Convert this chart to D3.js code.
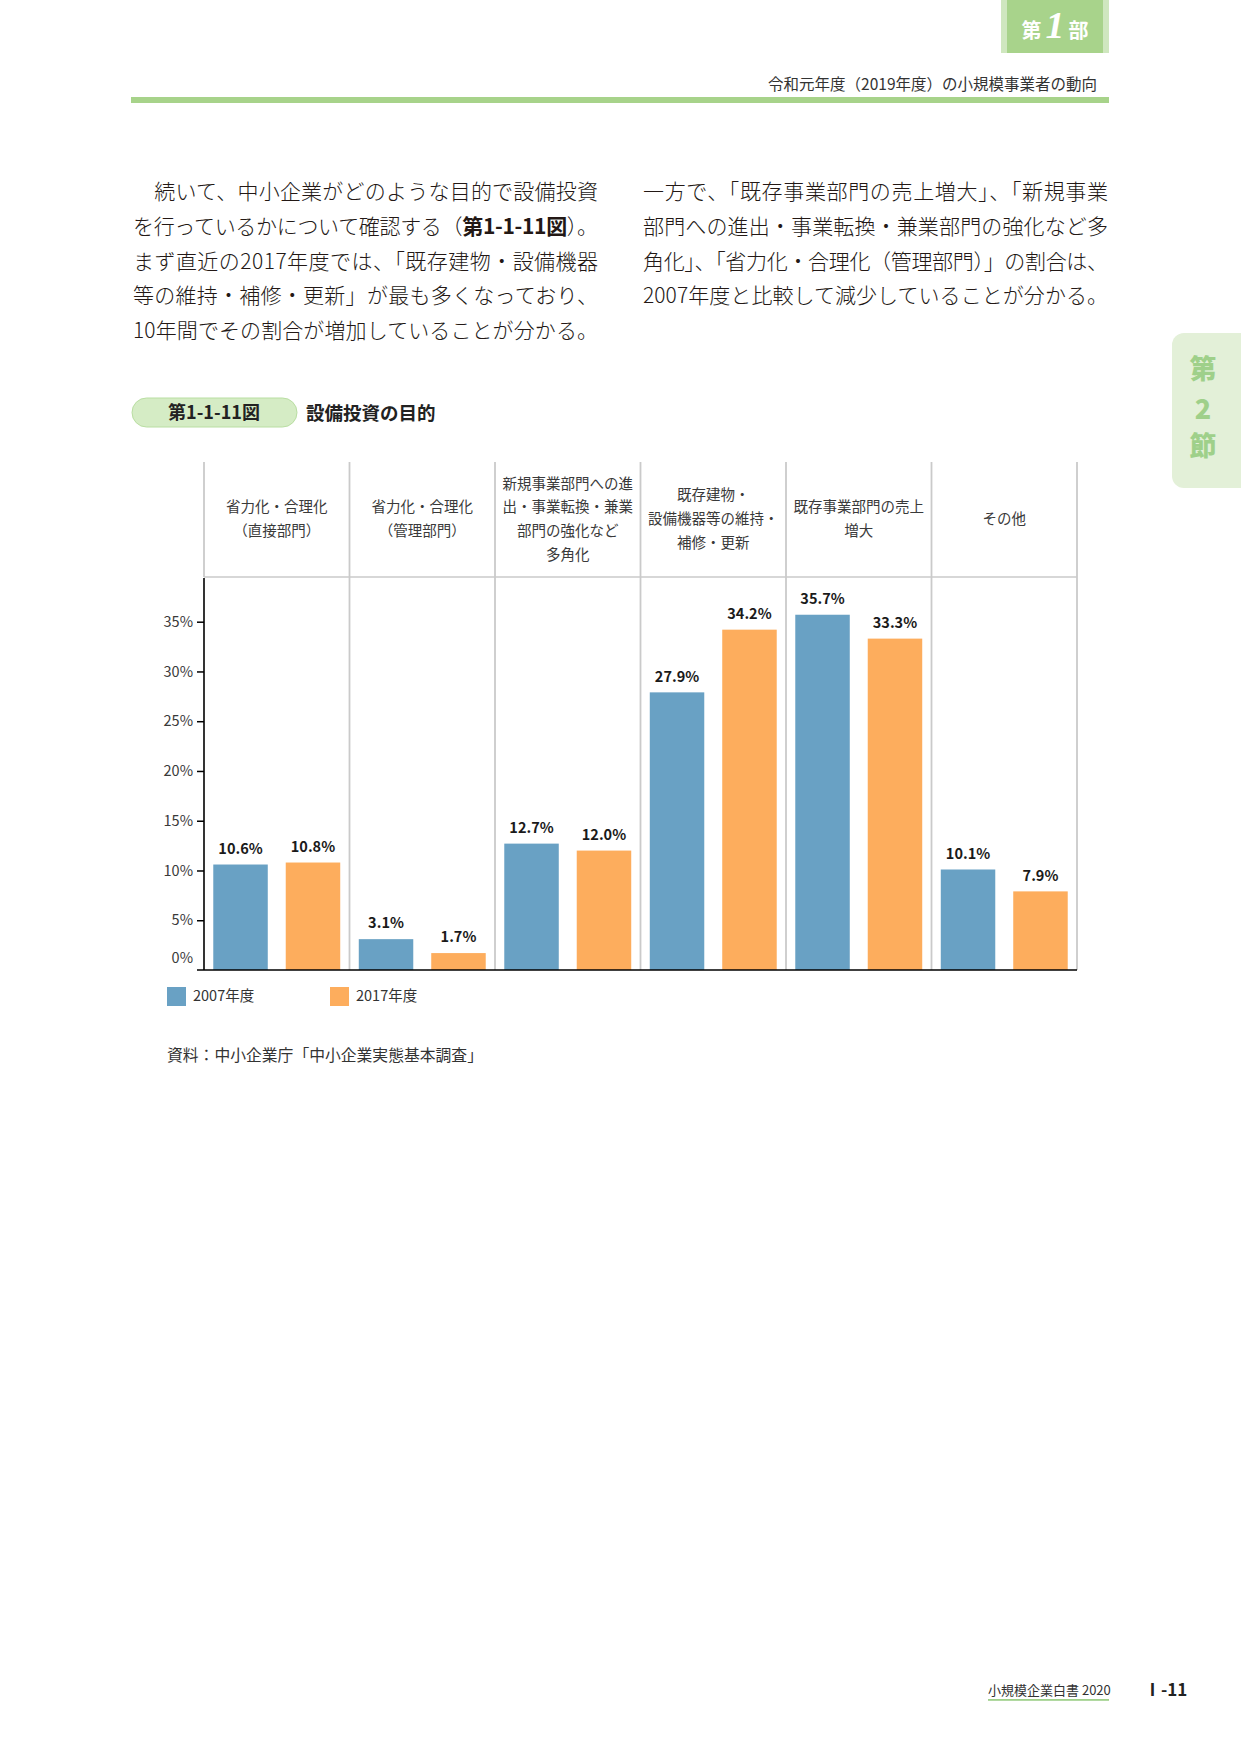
<!DOCTYPE html>
<html>
<head>
<meta charset="utf-8">
<script src="https://cdn.jsdelivr.net/npm/d3@7"></script>
<style>
  body { margin: 0; background: #fff; }
  svg { display: block; font-family: "Noto Sans CJK JP", "Noto Sans", sans-serif; }
</style>
</head>
<body>
<div id="container"></div>
<script>
// data
const categories = [
  ["省力化・合理化", "（直接部門）"],
  ["省力化・合理化", "（管理部門）"],
  ["新規事業部門への進", "出・事業転換・兼業", "部門の強化など", "多角化"],
  ["既存建物・", "設備機器等の維持・", "補修・更新"],
  ["既存事業部門の売上", "増大"],
  ["その他"]
];
const seriesNames = ["2007年度", "2017年度"];
const values2007 = [10.6, 3.1, 12.7, 27.9, 35.7, 10.1];
const values2017 = [10.8, 1.7, 12.0, 34.2, 33.3, 7.9];
const yTicks = [0, 5, 10, 15, 20, 25, 30, 35];
const colors = ["#69a1c4", "#fdad5d"];

const leftText = [
  [["　続いて、中小企業がどのような目的で設備投資", false]],
  [["を行っているかについて確認する（", false], ["第1-1-11図", true], ["）。", false]],
  [["まず直近の2017年度では、「既存建物・設備機器", false]],
  [["等の維持・補修・更新」が最も多くなっており、", false]],
  [["10年間でその割合が増加していることが分かる。", false]]
];
const rightText = [
  "一方で、「既存事業部門の売上増大」、「新規事業",
  "部門への進出・事業転換・兼業部門の強化など多",
  "角化」、「省力化・合理化（管理部門）」の割合は、",
  "2007年度と比較して減少していることが分かる。"
];

const W = 1241, H = 1754;
const svg = d3.select("#container").append("svg")
  .attr("width", W).attr("height", H);
svg.append("rect").attr("width", W).attr("height", H).attr("fill", "#fff");

// ---- page decoration ----
svg.append("rect").attr("x", 1001).attr("y", 0).attr("width", 108).attr("height", 53).attr("fill", "#cfe7bf");
svg.append("rect").attr("x", 1007).attr("y", 0).attr("width", 96).attr("height", 53).attr("fill", "#a8d38b");
const bu = svg.append("text").attr("x", 1055).attr("y", 38).attr("text-anchor", "middle").attr("fill", "#fff");
bu.append("tspan").attr("font-size", 20).attr("font-weight", "bold").text("第");
bu.append("tspan").attr("font-size", 38).attr("font-weight", "bold").attr("font-style", "italic")
  .attr("font-family", "Liberation Serif, serif").attr("dx", 4).text("1");
bu.append("tspan").attr("font-size", 20).attr("font-weight", "bold").attr("dx", 4).text("部");

svg.append("text").attr("x", 1097).attr("y", 85).attr("dy", "0.35em").attr("text-anchor", "end")
  .attr("font-size", 15.5).attr("fill", "#333").text("令和元年度（2019年度）の小規模事業者の動向");
svg.append("rect").attr("x", 131).attr("y", 97).attr("width", 978).attr("height", 6).attr("fill", "#a7d38a");

// side tab
svg.append("rect").attr("x", 1172).attr("y", 333).attr("width", 90).attr("height", 155).attr("rx", 12).attr("fill", "#e3f0d8");
["第", "2", "節"].forEach((t, i) => {
  svg.append("text").attr("x", 1203).attr("y", [370, 410, 447][i]).attr("dy", "0.35em")
    .attr("text-anchor", "middle").attr("font-size", 27).attr("font-weight", "900")
    .attr("fill", "#9fd08a").text(t);
});

// body text
const lineY = [191, 226, 261, 295, 330];
leftText.forEach((parts, i) => {
  const t = svg.append("text").attr("x", 133).attr("y", lineY[i]).attr("dy", "0.36em")
    .attr("font-size", 21).attr("font-weight", 300).attr("fill", "#231815")
    .attr("textLength", 465).attr("lengthAdjust", "spacing");
  parts.forEach(p => t.append("tspan").attr("font-weight", p[1] ? "bold" : 300).text(p[0]));
});
rightText.forEach((s, i) => {
  svg.append("text").attr("x", 643).attr("y", lineY[i]).attr("dy", "0.36em")
    .attr("font-size", 21).attr("font-weight", 300).attr("fill", "#231815")
    .attr("textLength", 465).attr("lengthAdjust", "spacing").text(s);
});

// figure title
svg.append("rect").attr("x", 132).attr("y", 398).attr("width", 165).attr("height", 29).attr("rx", 14.5)
  .attr("fill", "#d5ecc5").attr("stroke", "#b9dea2").attr("stroke-width", 1);
svg.append("text").attr("x", 214).attr("y", 413).attr("dy", "0.36em").attr("text-anchor", "middle")
  .attr("font-size", 18).attr("font-weight", "bold").attr("fill", "#222").text("第1-1-11図");
svg.append("text").attr("x", 306).attr("y", 413).attr("dy", "0.36em")
  .attr("font-size", 18.5).attr("font-weight", "bold").attr("fill", "#222").text("設備投資の目的");

// ---- chart ----
const left = 204, right = 1077, headTop = 462, headBottom = 577, base = 970;
const x0 = d3.scaleBand().domain(d3.range(categories.length)).range([left, right]).padding(0);
const x1 = d3.scaleBand().domain(seriesNames).range([0, x0.bandwidth()])
  .paddingInner(0.248).paddingOuter(0.128);
const y = d3.scaleLinear().domain([0, 35]).range([base, 621.7]);

const g = svg.append("g");

// column separators
const seps = d3.range(1, categories.length + 1).map(i => left + i * x0.bandwidth());
g.selectAll(".sep").data(seps).join("line")
  .attr("x1", d => d).attr("x2", d => d).attr("y1", headTop).attr("y2", base)
  .attr("stroke", "#cacaca").attr("stroke-width", 1.8);
g.append("line").attr("x1", left).attr("x2", left).attr("y1", headTop).attr("y2", headBottom)
  .attr("stroke", "#cacaca").attr("stroke-width", 1.8);
g.append("line").attr("x1", left).attr("x2", right).attr("y1", headBottom).attr("y2", headBottom)
  .attr("stroke", "#cacaca").attr("stroke-width", 1.5);

// header labels
categories.forEach((lines, i) => {
  const cx = x0(i) + x0.bandwidth() / 2;
  const mid = 519;
  const step = 23.8;
  lines.forEach((s, j) => {
    g.append("text").attr("x", cx).attr("y", mid + (j - (lines.length - 1) / 2) * step)
      .attr("dy", "0.36em").attr("text-anchor", "middle")
      .attr("font-size", 14.5).attr("fill", "#3a3a3a").text(s);
  });
});

// bars
const rows = categories.map((c, i) => ({ i, vals: [values2007[i], values2017[i]] }));
const groups = g.selectAll(".grp").data(rows).join("g")
  .attr("transform", d => `translate(${x0(d.i)},0)`);
groups.selectAll("rect").data(d => d.vals.map((v, k) => ({ k, v }))).join("rect")
  .attr("x", d => x1(seriesNames[d.k])).attr("width", x1.bandwidth())
  .attr("y", d => y(d.v)).attr("height", d => base - y(d.v))
  .attr("fill", d => colors[d.k]);
groups.selectAll("text").data(d => d.vals.map((v, k) => ({ k, v }))).join("text")
  .attr("x", d => x1(seriesNames[d.k]) + x1.bandwidth() / 2)
  .attr("y", d => y(d.v) - 16).attr("dy", "0.36em").attr("text-anchor", "middle")
  .attr("font-size", 14.5).attr("font-weight", "bold").attr("fill", "#1a1a1a")
  .text(d => d.v.toFixed(1) + "%");

// y axis
const yAxis = g.append("g").attr("transform", `translate(${left},0)`)
  .call(d3.axisLeft(y).tickValues(yTicks.filter(v => v > 0)).tickSize(7).tickPadding(4)
    .tickFormat(d => d + "%"));
yAxis.select(".domain").remove();
yAxis.selectAll(".tick line").attr("stroke", "#000").attr("stroke-width", 1.5);
yAxis.selectAll(".tick text").attr("font-size", 14.5).attr("fill", "#3a3a3a")
  .attr("font-family", "Noto Sans CJK JP, sans-serif");
g.append("text").attr("x", 193).attr("y", base - 12).attr("dy", "0.36em").attr("text-anchor", "end")
  .attr("font-size", 14.5).attr("fill", "#3a3a3a").text(yTicks[0] + "%");
g.append("line").attr("x1", left).attr("x2", left).attr("y1", headBottom + 1).attr("y2", base)
  .attr("stroke", "#000").attr("stroke-width", 1.6);
g.append("line").attr("x1", 197).attr("x2", right).attr("y1", base).attr("y2", base)
  .attr("stroke", "#000").attr("stroke-width", 1.6);

// legend
seriesNames.forEach((s, k) => {
  const lx = [167, 330][k];
  svg.append("rect").attr("x", lx).attr("y", 987).attr("width", 19).attr("height", 19).attr("fill", colors[k]);
  svg.append("text").attr("x", lx + 26).attr("y", 996).attr("dy", "0.36em")
    .attr("font-size", 14.5).attr("fill", "#333").text(s);
});

svg.append("text").attr("x", 167).attr("y", 1055).attr("dy", "0.36em")
  .attr("font-size", 15.8).attr("fill", "#333").text("資料：中小企業庁「中小企業実態基本調査」");

// footer
svg.append("text").attr("x", 988).attr("y", 1690).attr("dy", "0.36em")
  .attr("font-size", 13).attr("fill", "#333").text("小規模企業白書  2020");
svg.append("rect").attr("x", 988).attr("y", 1699).attr("width", 121).attr("height", 1.8).attr("fill", "#9fd08a");
svg.append("text").attr("x", 1144).attr("y", 1690).attr("dy", "0.36em")
  .attr("font-size", 17).attr("font-weight", "bold").attr("fill", "#222").text("Ⅰ-11");
</script>
</body>
</html>
